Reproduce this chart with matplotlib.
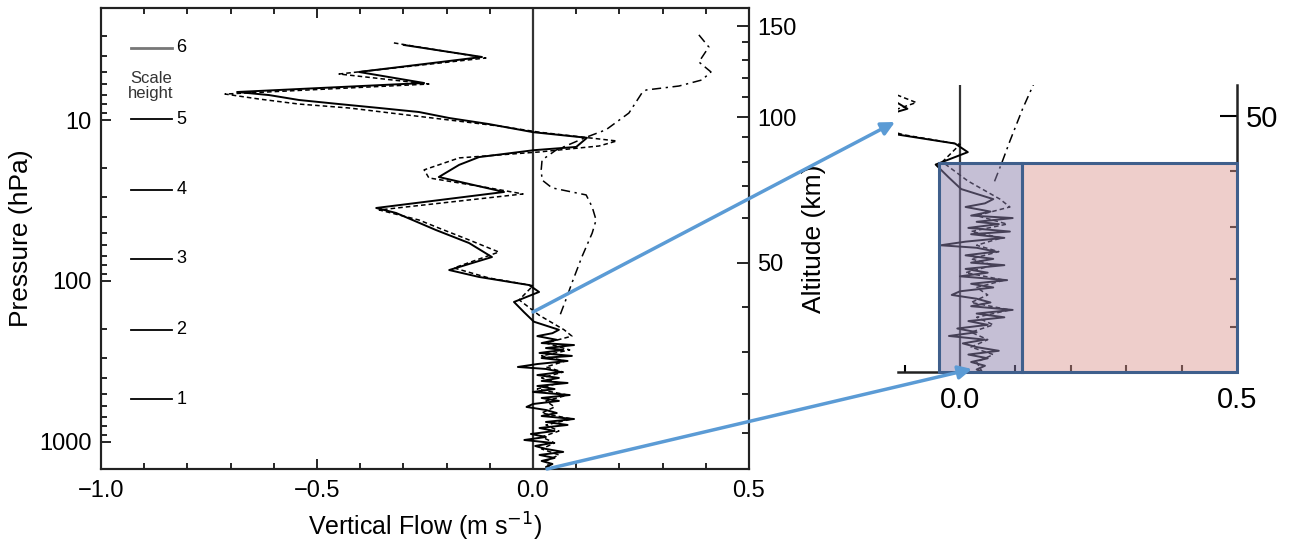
import numpy as np
import matplotlib.pyplot as plt
from matplotlib.patches import Rectangle, FancyArrowPatch
from matplotlib.ticker import MultipleLocator, NullFormatter, FixedLocator

plt.rcParams['font.family'] = ['Liberation Sans', 'DejaVu Sans']

# ---- data (pressure in hPa, vertical flow in m/s) ----
solid_p = [3.42, 4.06, 5.03, 5.89, 6.70, 7.00, 7.51, 7.96, 8.42, 8.92, 9.72, 10.6,
           11.9, 12.9, 14.7, 15.4, 17.0, 19.0, 22.6, 28.0, 35.2, 37.8, 48.2, 58.1,
           71.0, 85.5, 94.4, 106, 117, 135, 156, 179, 201,
           211, 220, 232, 243, 250, 261, 268, 280, 292, 301, 314, 328, 342, 352,
           368, 384, 400, 418, 430, 449, 469, 489, 511, 533, 556, 581, 606, 633,
           661, 690, 720, 751, 784, 819, 855, 892, 931, 972, 1014, 1059, 1105,
           1153, 1204, 1257, 1312, 1370, 1430, 1472]
solid_w = [-0.299, -0.118, -0.403, -0.252, -0.685, -0.611, -0.542, -0.449, -0.356,
           -0.264, -0.194, -0.102, 0.0, 0.125, 0.100, 0.002, -0.125, -0.171, -0.218,
           -0.067, -0.363, -0.317, -0.225, -0.148, -0.095, -0.194, -0.125, -0.009,
           0.014, -0.044, -0.021, 0.002, 0.060,
           0.045, 0.010, 0.055, 0.020, 0.095, 0.030, 0.070, 0.015, 0.090, 0.020,
           0.080, 0.010, -0.035, 0.030, 0.065, 0.010, 0.060, 0.020, 0.080, 0.010,
           0.050, 0.000, 0.085, 0.020, 0.060, 0.000, -0.015, 0.030, 0.055, 0.020,
           0.095, 0.030, 0.080, 0.015, 0.050, -0.005, 0.030, -0.020, 0.045, 0.005,
           0.030, 0.070, 0.015, 0.050, 0.020, 0.045, 0.030, 0.040]

dashed_p = [3.32, 4.12, 5.18, 5.98, 6.90, 7.41, 7.96, 8.42, 9.18, 10.0, 10.9, 11.9,
            13.5, 14.5, 15.8, 17.2, 20.4, 22.9, 26.4, 28.8, 36.2, 41.8, 46.9, 55.6,
            66.1, 83.0, 95.8, 107, 131, 163, 201,
            220, 243, 268, 292, 314, 342, 368, 400, 430, 469, 511, 556, 606, 661,
            720, 784, 855, 931, 1014, 1105, 1204, 1312, 1472]
dashed_w = [-0.322, -0.109, -0.449, -0.241, -0.713, -0.634, -0.542, -0.426, -0.310,
            -0.194, -0.079, 0.014, 0.194, 0.153, 0.014, -0.171, -0.252, -0.241,
            -0.102, -0.023, -0.356, -0.264, -0.218, -0.148, -0.079, -0.183, -0.102,
            0.0, -0.032, 0.014, 0.072,
            0.090, 0.030, 0.085, 0.020, 0.075, 0.030, 0.070, 0.020, 0.060, 0.010,
            0.080, 0.030, 0.050, 0.020, 0.090, 0.030, 0.060, 0.020, 0.050, 0.020,
            0.060, 0.030, 0.040]

dashdot_p = [2.96, 3.52, 4.36, 5.03, 5.64, 6.15, 6.51, 6.80, 9.05, 11.5, 12.8, 15.4,
             17.7, 20.4, 23.6, 26.4, 28.0, 29.2, 34.7, 41.8, 50.4, 71.0, 103, 131, 170]
dashdot_w = [0.384, 0.407, 0.384, 0.412, 0.391, 0.338, 0.262, 0.252, 0.222, 0.169,
             0.123, 0.053, 0.021, 0.019, 0.021, 0.044, 0.090, 0.123, 0.137, 0.146,
             0.137, 0.113, 0.090, 0.076, 0.060]

# scale height markers
scale_height_n = [1, 2, 3, 4, 5, 6]
scale_height_p = [541, 201, 73, 27.2, 9.86, 3.57]

# altitude axis (km) and matching pressure levels (hPa)
alt_km = [10, 20, 30, 40, 50, 60, 70, 80, 90, 100, 110, 120, 130, 140, 150]
alt_p = [879, 503, 276, 145, 77.3, 40.6, 25.7, 18.2, 12.8, 9.58, 7.19, 5.48,
         4.24, 3.28, 2.61]
alt_major = [50, 100, 150]

x_ticks = [-1.0, -0.5, 0.0, 0.5]
x_ticklabels = ['\u22121.0', '\u22120.5', '0.0', '0.5']
p_ticks = [10, 100, 1000]

P_BOTTOM, P_TOP = 1472, 2.015

W, H = 1297, 543
fig = plt.figure(figsize=(W / 100, H / 100), dpi=100)


def px_box(l, t, r, b):
    return [l / W, 1 - b / H, (r - l) / W, (b - t) / H]


def draw_profiles(a):
    a.plot(solid_w, solid_p, color='black', lw=1.4, zorder=3)
    a.plot(dashed_w, dashed_p, color='black', lw=1.1, ls=(0, (3, 2)), zorder=3)
    a.plot(dashdot_w, dashdot_p, color='black', lw=1.1, ls=(0, (6, 3, 1.5, 3)), zorder=3)
    a.axvline(0, color='#333333', lw=1.6, zorder=2)


# ---------------- main panel ----------------
ax = fig.add_axes(px_box(101, 8, 749, 469))
draw_profiles(ax)
ax.set_yscale('log')
ax.set_ylim(P_BOTTOM, P_TOP)
ax.set_xlim(-1.0, 0.5)
ax.set_yticks(p_ticks, [str(t) for t in p_ticks])
ax.yaxis.set_minor_formatter(NullFormatter())
ax.set_xticks(x_ticks, x_ticklabels)
ax.xaxis.set_minor_locator(MultipleLocator(0.1))
ax.tick_params(axis='both', which='both', direction='in', labelsize=17, width=1.2)
ax.tick_params(axis='x', which='both', top=True, pad=8)
ax.tick_params(axis='y', which='both', right=False, pad=7)
ax.tick_params(which='major', length=7)
ax.tick_params(which='minor', length=4)
for s in ax.spines.values():
    s.set_linewidth(1.5)
    s.set_color('#222222')
ax.set_xlabel('Vertical Flow (m s$^{-1}$)', fontsize=18, labelpad=6)
ax.set_ylabel('Pressure (hPa)', fontsize=19, labelpad=4)

for n, p in zip(scale_height_n, scale_height_p):
    c = '#777777' if n == 6 else 'black'
    ax.plot([-0.93, -0.836], [p, p], color=c, lw=2.0 if n == 6 else 1.3)
    ax.text(-0.826, p, str(n), ha='left', va='center', fontsize=13)
ax.text(-0.884, 6.15, 'Scale\nheight', ha='center', va='center', fontsize=12,
        color='#333333', linespacing=1.0)

ax2 = ax.twinx()
ax2.set_yscale('log')
ax2.set_ylim(P_BOTTOM, P_TOP)
maj_p = [p for k, p in zip(alt_km, alt_p) if k in alt_major]
min_p = [p for k, p in zip(alt_km, alt_p) if k not in alt_major]
ax2.yaxis.set_major_locator(FixedLocator(maj_p))
ax2.yaxis.set_major_formatter(plt.FixedFormatter([str(k) for k in alt_major]))
ax2.yaxis.set_minor_locator(FixedLocator(min_p))
ax2.yaxis.set_minor_formatter(NullFormatter())
ax2.tick_params(axis='y', which='both', direction='in', labelsize=17, width=1.2, pad=6)
ax2.tick_params(which='major', length=9)
ax2.tick_params(which='minor', length=5)
ax2.set_ylabel('Altitude (km)', fontsize=19, labelpad=4)
for s in ax2.spines.values():
    s.set_linewidth(1.5)
    s.set_color('#222222')

# ---------------- zoomed panel ----------------
axi = fig.add_axes(px_box(898, 85, 1237, 372))
draw_profiles(axi)
axi.set_yscale('log')
axi.set_ylim(P_BOTTOM, 54)
axi.set_xlim(-0.112, 0.5)
axi.spines['left'].set_visible(False)
axi.spines['top'].set_visible(False)
for s in ('right', 'bottom'):
    axi.spines[s].set_linewidth(1.8)
    axi.spines[s].set_color('#222222')
axi.set_xticks([0.0, 0.5], ['0.0', '0.5'])
axi.xaxis.set_minor_locator(FixedLocator([-0.1, 0.1, 0.2, 0.3, 0.4]))
axi.yaxis.tick_right()
axi.yaxis.set_major_locator(FixedLocator([p for k, p in zip(alt_km, alt_p) if k == 50]))
axi.yaxis.set_major_formatter(plt.FixedFormatter(['50']))
axi.yaxis.set_minor_locator(FixedLocator([p for k, p in zip(alt_km, alt_p) if k < 50]))
axi.yaxis.set_minor_formatter(NullFormatter())
axi.tick_params(which='both', direction='in', labelsize=21, width=1.5)
axi.tick_params(axis='x', which='major', length=0, pad=10)
axi.tick_params(axis='x', which='minor', length=5)
axi.tick_params(axis='y', which='major', length=12, pad=6)
axi.tick_params(axis='y', which='minor', length=5)

edge = '#3f5f8c'
axi.add_patch(Rectangle((-0.038, 133), 0.15, P_BOTTOM - 133, facecolor=(0.55, 0.50, 0.68, 0.5),
                        edgecolor=edge, lw=2.2, zorder=5, clip_on=False))
axi.add_patch(Rectangle((0.112, 133), 0.388, P_BOTTOM - 133, facecolor=(0.87, 0.62, 0.60, 0.5),
                        edgecolor=edge, lw=2.2, zorder=5, clip_on=False))

# ---------------- connecting arrows ----------------
for (x0, y0), (x1, y1) in [((533, 312), (895, 122)), ((547, 469), (972, 369))]:
    arr = FancyArrowPatch((x0 / W, 1 - y0 / H), (x1 / W, 1 - y1 / H),
                          transform=fig.transFigure, arrowstyle='-|>', mutation_scale=20,
                          color='#5B9BD5', lw=2.5, shrinkA=0, shrinkB=0, zorder=10)
    fig.add_artist(arr)

fig.savefig('out.png', dpi=100)
